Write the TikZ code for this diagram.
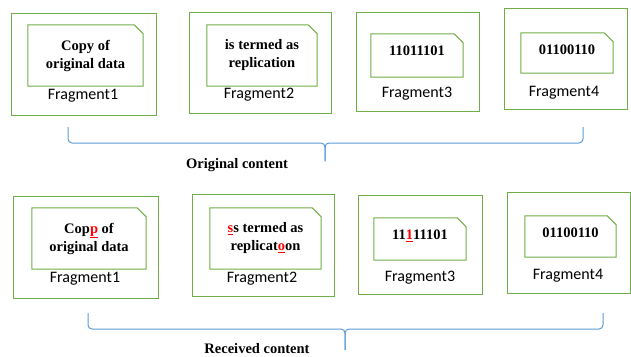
\documentclass[tikz,border=0pt]{standalone}
\usepackage{fontspec}
\setmainfont{Liberation Serif}
\newfontfamily\calibri{Carlito}
\usetikzlibrary{positioning}
\definecolor{fraggreen}{RGB}{112,173,71}
\definecolor{braceblue}{RGB}{91,155,213}
\definecolor{errred}{RGB}{255,0,0}
\newcommand{\err}[1]{\textcolor{errred}{\underline{#1}}}

\begin{document}
\begin{tikzpicture}[
  x=1pt, y=-1pt,
  frag/.style={rectangle, draw=fraggreen, line width=1pt, inner sep=0pt},
  card/.style={rectangle, inner sep=0pt, align=center,
               font=\bfseries\fontsize{14.5}{18}\selectfont},
  cardline/.style={draw=fraggreen, line width=1pt},
  fraglbl/.style={font=\calibri\fontsize{16}{19}\selectfont},
  capt/.style={font=\bfseries\fontsize{14.5}{18}\selectfont},
  brace/.style={draw=braceblue, line width=1pt, rounded corners=4pt}
]
\useasboundingbox (0,0) rectangle (631,356);

% original content
\node[frag, minimum width=145pt, minimum height=102pt] (o1) at (83.5,64) {};
\node[card, minimum width=115pt, minimum height=61pt] (c1) at (85.5,55.5) {Copy of\\original data};
\node[fraglbl] (f1) at (83,96) {Fragment1};
\node[frag, minimum width=142pt, minimum height=101pt] (o2) at (260,62.5) {};
\node[card, minimum width=110pt, minimum height=61pt] (c2) at (262,55.5) {is termed as\\replication};
\node[fraglbl] (f2) at (259,95) {Fragment2};
\node[frag, minimum width=123pt, minimum height=99pt] (o3) at (417.5,61.5) {};
\node[card, minimum width=92pt, minimum height=43pt, text depth=9pt] (c3) at (417,55.5) {11011101};
\node[fraglbl] (f3) at (417,94) {Fragment3};
\node[frag, minimum width=123pt, minimum height=101pt] (o4) at (565.5,58.5) {};
\node[card, minimum width=92pt, minimum height=40pt, text depth=6pt] (c4) at (567,53) {01100110};
\node[fraglbl] (f4) at (564,93) {Fragment4};

% received content
\node[frag, minimum width=145pt, minimum height=102pt] (ro1) at (85.5,247) {};
\node[card, minimum width=114pt, minimum height=61pt] (rc1) at (89,238.5) {Cop\err{p} of\\original data};
\node[fraglbl] (rf1) at (85,279) {Fragment1};
\node[frag, minimum width=142pt, minimum height=102pt] (ro2) at (263,245) {};
\node[card, minimum width=111pt, minimum height=61pt] (rc2) at (265.5,238.5) {\err{s}s termed as\\replicat\err{o}on};
\node[fraglbl] (rf2) at (262,279) {Fragment2};
\node[frag, minimum width=124pt, minimum height=99pt] (ro3) at (420,244.5) {};
\node[card, minimum width=92pt, minimum height=42pt, text depth=8pt] (rc3) at (420,239) {11\err{1}11101};
\node[fraglbl] (rf3) at (420,278) {Fragment3};
\node[frag, minimum width=123pt, minimum height=101pt] (ro4) at (568.5,242.5) {};
\node[card, minimum width=91pt, minimum height=41pt, text depth=7pt] (rc4) at (570.5,236.5) {01100110};
\node[fraglbl] (rf4) at (568,276) {Fragment4};

% cards with clipped corner
\foreach \c in {c1,c2,c3,c4,rc1,rc2,rc3,rc4}
  \draw[cardline] (\c.south west) -- (\c.north west) -- ([xshift=-9pt]\c.north east)
    -- ([yshift=-9pt]\c.north east) -- (\c.south east) -- cycle;

% brackets
\coordinate (ob-l) at (68,127);
\coordinate (ob-r) at (583,127);
\coordinate (ob-m) at (325,143);
\coordinate (ob-tip) at (325,161);
\draw[brace] (ob-l) |- (ob-m) -- (ob-tip);
\draw[brace] (ob-r) |- (ob-m) -- (ob-tip);
\node[capt] (ocap) at (237,165) {Original content};

\coordinate (rb-l) at (88,313);
\coordinate (rb-r) at (603,313);
\coordinate (rb-m) at (345,329);
\coordinate (rb-tip) at (345,350);
\draw[brace] (rb-l) |- (rb-m) -- (rb-tip);
\draw[brace] (rb-r) |- (rb-m) -- (rb-tip);
\node[capt] (rcap) at (257,348.5) {Received content};
\end{tikzpicture}
\end{document}
